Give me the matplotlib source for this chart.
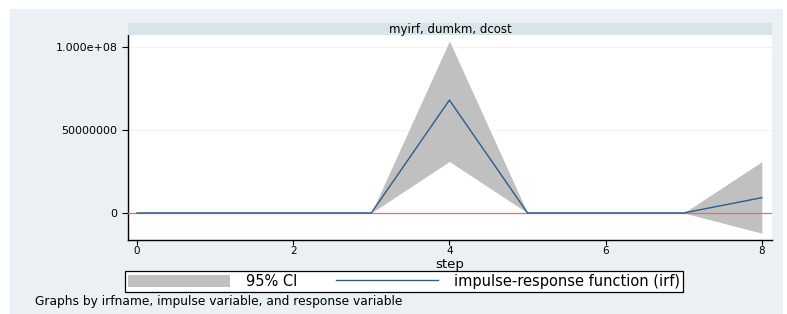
import numpy as np
import matplotlib.pyplot as plt
from matplotlib.patches import Rectangle, Patch
from matplotlib.lines import Line2D

plt.rcParams['font.family'] = ['DejaVu Sans']

# impulse-response values
steps = [0, 1, 2, 3, 4, 5, 6, 7, 8]
irf = [0, 0, 0, 0, 6.8e7, 0, 0, 0, 9.2e6]
ci_lower = [0, 0, 0, 0, 3.1e7, 0, 0, 0, -1.22e7]
ci_upper = [0, 0, 0, 0, 1.036e8, 0, 0, 0, 3.09e7]
yticks = [0, 5e7, 1e8]
ytick_labels = ['0', '50000000', '1.000e+08']
xticks = [0, 2, 4, 6, 8]

W, H = 787, 314
fig = plt.figure(figsize=(W / 100, H / 100), dpi=100)
fig.patch.set_facecolor('white')

bg = '#eaf0f3'
fig.patches.append(Rectangle((10 / W, 0), 773 / W, 1 - 9 / H, transform=fig.transFigure,
                             facecolor=bg, edgecolor='none', zorder=-5))

left, right = 128 / W, 772 / W
bottom, top = 1 - 240 / H, 1 - 35 / H
ax = fig.add_axes([left, bottom, right - left, top - bottom])
ax.set_facecolor('white')

# title strip
strip = fig.add_axes([left, top, right - left, 12 / H])
strip.set_facecolor('#d9e4ea')
strip.set_xticks([])
strip.set_yticks([])
for s in strip.spines.values():
    s.set_visible(False)
strip.text(0.5, 0.5, 'myirf, dumkm, dcost', ha='center', va='center', fontsize=8.5)

ax.fill_between(steps, ci_lower, ci_upper, color='#c0c0c0', linewidth=0, zorder=2)
ax.axhline(0, color='#e86a78', linewidth=0.9, zorder=3)
ax.plot(steps, irf, color='#2d5d8a', linewidth=1.0, zorder=4)

ax.set_xlim(-0.115, 8.13)
ax.set_ylim(-1.63e7, 1.072e8)
ax.set_yticks(yticks)
ax.set_yticklabels(ytick_labels)
ax.set_xticks(xticks)
for y in yticks[1:]:
    ax.axhline(y, color='#eef3f5', linewidth=0.8, zorder=1)

ax.tick_params(axis='both', direction='out', length=4, width=0.8, labelsize=8, colors='black')
ax.tick_params(axis='x', pad=1, labelsize=7.5, length=3.5)
for s in ['top', 'right']:
    ax.spines[s].set_visible(False)
ax.spines['left'].set_linewidth(1.0)
ax.spines['bottom'].set_linewidth(1.0)
ax.set_xlabel('step', fontsize=9.5)
ax.xaxis.set_label_coords(0.5, -(258 - 240) / 205)

handles = [Patch(facecolor='#c0c0c0', edgecolor='none'),
           Line2D([0], [0], color='#2d5d8a', linewidth=1.0)]
leg = fig.legend(handles, ['95% CI', 'impulse-response function (irf)'],
                 loc='center', bbox_to_anchor=((124 + 684) / 2 / W, 1 - 281.5 / H),
                 ncol=2, frameon=True, fancybox=False, fontsize=10.5, framealpha=1,
                 handlelength=7.0, handleheight=0.9, columnspacing=2.6,
                 borderpad=0.2, handletextpad=1.1, borderaxespad=0)
leg.get_frame().set_edgecolor('black')
leg.get_frame().set_linewidth(0.9)

fig.text(35 / W, 1 - 302 / H, 'Graphs by irfname, impulse variable, and response variable',
         ha='left', va='center', fontsize=8.8)

fig.savefig('out.png', dpi=100, facecolor=fig.get_facecolor())
